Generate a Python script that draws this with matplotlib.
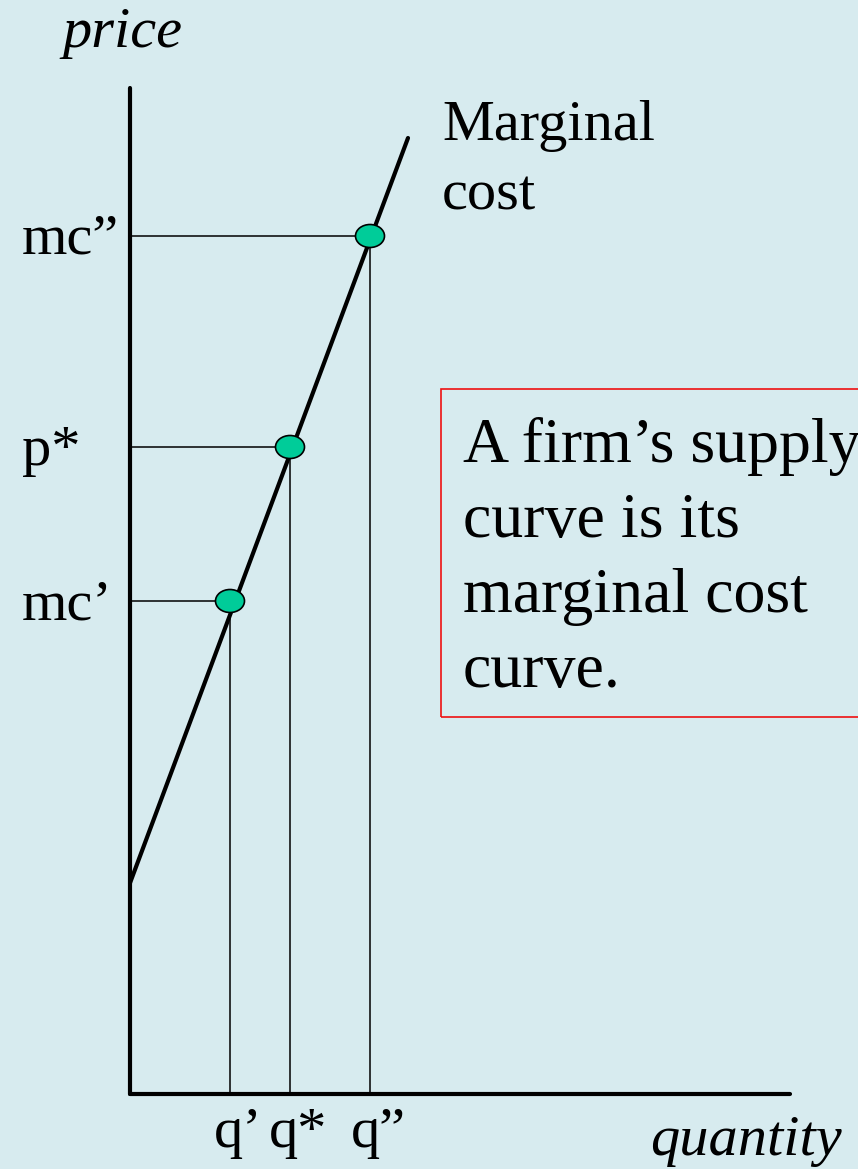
import matplotlib.pyplot as plt
from matplotlib.patches import Ellipse, Rectangle

# quantities / prices in chart units (origin at the axes corner)
q_labels = ["q\u2019", "q*", "q\u201d"]
p_labels = ["mc\u2019", "p*", "mc\u201d"]
q_vals = [100, 160, 240]
p_vals = [493, 647, 858]

# marginal cost line endpoints
mc_q = [0, 278]
mc_p = [211, 956]

box_lines = ["A firm\u2019s supply", "curve is its", "marginal cost", "curve."]
mc_lines = ["Marginal", "cost"]

bg = '#d7ebef'
dot = '#00cc99'

plt.rcParams['font.family'] = ['Liberation Serif', 'DejaVu Serif']

fig = plt.figure(figsize=(8.58, 11.69), dpi=100, facecolor=bg)
ax = fig.add_axes([0, 0, 1, 1])
ax.set_facecolor(bg)
ax.set_xlim(-130, 728)
ax.set_ylim(-75, 1094)
ax.axis('off')

# axes
ax.plot([0, 0], [0, 1006], color='black', lw=3, solid_capstyle='round', zorder=3)
ax.plot([0, 660], [0, 0], color='black', lw=3, solid_capstyle='round', zorder=3)

# guide lines
for q, p in zip(q_vals, p_vals):
    ax.plot([0, q], [p, p], color='black', lw=1.1, zorder=2)
    ax.plot([q, q], [0, p], color='black', lw=1.1, zorder=2)

# marginal cost curve
ax.plot(mc_q, mc_p, color='black', lw=3, solid_capstyle='round', zorder=3)

for q, p in zip(q_vals, p_vals):
    ax.add_patch(Ellipse((q, p), 29, 23, facecolor=dot, edgecolor='black', lw=1.2, zorder=4))

# labels
for p, lab in zip(p_vals, p_labels):
    ax.text(-108, p - 18, lab, fontsize=42, ha='left', va='baseline')
for q, lab in zip(q_vals, q_labels):
    ax.text(q + 8, -53, lab, fontsize=42, ha='center', va='baseline')

ax.text(-68, 1047, "price", fontsize=42, style='italic', ha='left', va='baseline')
ax.text(712, -61, "quantity", fontsize=42, style='italic', ha='right', va='baseline')
for i, line in enumerate(mc_lines):
    ax.text(312, 954 - 70 * i, line, fontsize=42, ha='left', va='baseline')

# callout box
ax.add_patch(Rectangle((311, 377), 500, 328, facecolor='none', edgecolor='#ee1111', lw=1.2, zorder=2))
for i, line in enumerate(box_lines):
    ax.text(333, 632 - 75 * i, line, fontsize=46, ha='left', va='baseline')

fig.savefig('out.png', dpi=100, facecolor=bg)
